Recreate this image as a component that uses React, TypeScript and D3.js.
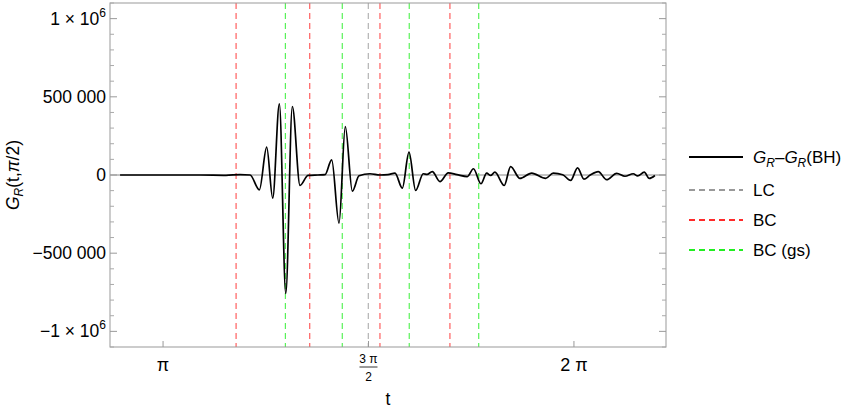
import * as d3 from 'd3';

// t values (radians) and G_R - G_R(BH)
const tValues = [
  2.813, 3.424, 3.623, 3.73, 3.807, 3.878, 3.934, 3.98, 4.031, 4.08, 4.13, 4.189,
  4.25, 4.326, 4.38, 4.431, 4.487, 4.535, 4.589, 4.64, 4.724, 4.8, 4.861, 4.915,
  4.971, 5.022, 5.073, 5.131, 5.16, 5.2, 5.259, 5.322, 5.389, 5.468, 5.515, 5.572,
  5.616, 5.646, 5.679, 5.75, 5.799, 5.87, 5.96, 6.067, 6.125, 6.197, 6.258, 6.311,
  6.36, 6.405, 6.469, 6.533, 6.61, 6.673, 6.737, 6.77, 6.821, 6.859, 6.902,
];
const gValues = [
  0, 0, -2000, 3000, 0, -94600, 177800, -148000, 455000, -758000, 438000, -67000,
  -3000, 0, 2000, 97000, -308000, 310000, -103000, -5000, 8000, 0, 2000, 12000,
  -84000, 146000, -99000, 8000, 4000, 22000, -42000, 14000, 2000, -10000, 40000, -56000,
  12000, -3000, 18000, -67000, 54000, -22000, 12000, -22000, 12000, 2000, -35000, 46000,
  -27000, -2000, 22000, -30000, 10000, -8000, 8000, -6000, 18000, -22000, -3000,
];

const lcLines = [4.711];
const bcLines = [3.7, 4.263, 4.8, 5.335];
const bcGsLines = [4.077, 4.512, 5.024, 5.555];

const yMajor = [-1e6, -5e5, 0, 5e5, 1e6];
const legendLabels = ['LC', 'BC', 'BC (gs)'];
const legendColors = ['#999999', '#ff2a2a', '#22ee22'];

const W = 861;
const H = 411;
const left = 110;
const right = 666;
const top = 3;
const bottom = 347;
const FONT = 'Liberation Sans, Arial, sans-serif';

function fmt(v: number) {
  const s = Math.abs(v).toString().replace(/(\d)(?=(\d{3})+$)/g, '$1 ');
  return (v < 0 ? '\u2212' : '') + s;
}

export default function App() {
  const x = d3.scaleLinear().domain([2.736, 6.987]).range([left, right]);
  const y = d3.scaleLinear().domain([-1.1e6, 1.1e6]).range([bottom, top]);

  const pts = tValues.map((t, i) => [t, gValues[i]] as [number, number]);
  const line = d3
    .line<[number, number]>()
    .x((d) => x(d[0]))
    .y((d) => y(d[1]))
    .curve(d3.curveMonotoneX);

  const minor = d3.range(-11, 12).map((k) => k * 1e5).filter((v) => v % 5e5 !== 0);
  const xTicks = [Math.PI, 1.5 * Math.PI, 2 * Math.PI];

  const vline = (t: number, color: string, key: string) => (
    <line
      key={key}
      x1={x(t)}
      x2={x(t)}
      y1={top}
      y2={bottom}
      stroke={color}
      strokeWidth={1.2}
      strokeOpacity={0.75}
      strokeDasharray="6,4"
    />
  );

  return (
    <svg
      width={W}
      height={H}
      style={{ position: 'absolute', left: 0, top: 0, background: '#fff' }}
      fontFamily={FONT}
    >
      {/* zero axis */}
      <line x1={left} x2={right} y1={y(0)} y2={y(0)} stroke="#888" strokeWidth={1} />

      {bcLines.map((t, i) => vline(t, legendColors[1], 'bc' + i))}
      {bcGsLines.map((t, i) => vline(t, legendColors[2], 'gs' + i))}
      {lcLines.map((t, i) => vline(t, legendColors[0], 'lc' + i))}

      <path d={line(pts) ?? ''} fill="none" stroke="#000" strokeWidth={1.7} />

      {/* frame */}
      <rect x={left} y={top} width={right - left} height={bottom - top} fill="none" stroke="#999" strokeWidth={1} />

      {/* y ticks */}
      {yMajor.map((v) => (
        <g key={'ym' + v}>
          <line x1={left} x2={left + 7} y1={y(v)} y2={y(v)} stroke="#999" />
          <line x1={right - 7} x2={right} y1={y(v)} y2={y(v)} stroke="#999" />
        </g>
      ))}
      {minor.map((v) => (
        <g key={'yn' + v}>
          <line x1={left} x2={left + 4} y1={y(v)} y2={y(v)} stroke="#aaa" />
          <line x1={right - 4} x2={right} y1={y(v)} y2={y(v)} stroke="#aaa" />
        </g>
      ))}
      {yMajor.map((v) =>
        Math.abs(v) === 1e6 ? (
          <text key={'yl' + v} x={left - 4} y={y(v) + 6} textAnchor="end" fontSize={17.5}>
            {v < 0 ? '\u2212' : ''}1 × 10
            <tspan fontSize={12} dy={-8}>6</tspan>
          </text>
        ) : (
          <text key={'yl' + v} x={left - 4} y={y(v) + 6} textAnchor="end" fontSize={17.5}>
            {fmt(v)}
          </text>
        )
      )}

      {/* x ticks */}
      {xTicks.map((t) => (
        <line key={'xt' + t} x1={x(t)} x2={x(t)} y1={bottom} y2={bottom - 6} stroke="#999" />
      ))}
      <text x={x(Math.PI)} y={371} textAnchor="middle" fontSize={18}>π</text>
      <text x={x(2 * Math.PI)} y={371} textAnchor="middle" fontSize={18}>2 π</text>
      <text x={x(1.5 * Math.PI)} y={363} textAnchor="middle" fontSize={12}>3 π</text>
      <line x1={x(1.5 * Math.PI) - 9} x2={x(1.5 * Math.PI) + 9} y1={367} y2={367} stroke="#000" strokeWidth={0.8} />
      <text x={x(1.5 * Math.PI)} y={381} textAnchor="middle" fontSize={12}>2</text>

      <text x={(left + right) / 2} y={405} textAnchor="middle" fontSize={17.5}>t</text>

      {/* y label */}
      <text transform="translate(19,175) rotate(-90)" textAnchor="middle" fontSize={17.5}>
        <tspan fontStyle="italic">G</tspan>
        <tspan fontSize={12} fontStyle="italic" dy={4}>R</tspan>
        <tspan dy={-4}>(t,</tspan>
        <tspan fontStyle="italic">π</tspan>
        <tspan>/2)</tspan>
      </text>

      {/* legend */}
      <g>
        <line x1={689} x2={743} y1={157} y2={157} stroke="#000" strokeWidth={2} />
        <text x={753} y={163} fontSize={17}>
          <tspan fontStyle="italic">G</tspan>
          <tspan fontSize={12} fontStyle="italic" dy={4}>R</tspan>
          <tspan dy={-4}>–</tspan>
          <tspan fontStyle="italic">G</tspan>
          <tspan fontSize={12} fontStyle="italic" dy={4}>R</tspan>
          <tspan dy={-4}>(BH)</tspan>
        </text>
        {legendLabels.map((lab, i) => (
          <g key={lab}>
            <line
              x1={689}
              x2={743}
              y1={190 + i * 30}
              y2={190 + i * 30}
              stroke={legendColors[i]}
              strokeWidth={2}
              strokeDasharray="6,4"
            />
            <text x={753} y={196 + i * 30} fontSize={17}>{lab}</text>
          </g>
        ))}
      </g>
    </svg>
  );
}
